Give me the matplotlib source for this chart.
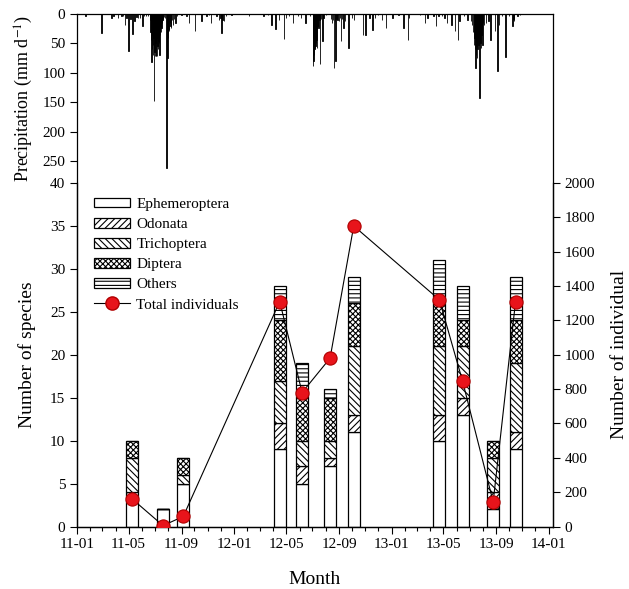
import matplotlib
matplotlib.use("Agg")
import matplotlib.pyplot as plt
import matplotlib.dates as mdates
import pandas as pd
import numpy as np
from matplotlib.lines import Line2D
from matplotlib.patches import Patch

plt.rcParams['font.family'] = ['Liberation Serif', 'DejaVu Serif']
plt.rcParams['mathtext.fontset'] = 'stix'
plt.rcParams['hatch.linewidth'] = 0.8

# ---------------- data ----------------
precip_dates = [
    # 2011
    "2011-01-21", "2011-02-27", "2011-03-22", "2011-03-27", "2011-04-06", "2011-04-14", "2011-04-18",
    "2011-04-22", "2011-04-26", "2011-05-01", "2011-05-05", "2011-05-10", "2011-05-15", "2011-05-19",
    "2011-05-23", "2011-05-27", "2011-06-02", "2011-06-06", "2011-06-10", "2011-06-15", "2011-06-19",
    "2011-06-21", "2011-06-22", "2011-06-23", "2011-06-24", "2011-06-25", "2011-06-26", "2011-06-27",
    "2011-06-28", "2011-06-29", "2011-06-30", "2011-07-01", "2011-07-02", "2011-07-03", "2011-07-04",
    "2011-07-05", "2011-07-06", "2011-07-07", "2011-07-08", "2011-07-09", "2011-07-10", "2011-07-11",
    "2011-07-12", "2011-07-13", "2011-07-14", "2011-07-15", "2011-07-16", "2011-07-17", "2011-07-18",
    "2011-07-19", "2011-07-20", "2011-07-22", "2011-07-25", "2011-07-28", "2011-07-29", "2011-07-30",
    "2011-07-31", "2011-08-01", "2011-08-02", "2011-08-03", "2011-08-05", "2011-08-06", "2011-08-08",
    "2011-08-10", "2011-08-12", "2011-08-15", "2011-08-18", "2011-08-21", "2011-09-01", "2011-09-12",
    "2011-09-18", "2011-10-02", "2011-10-17", "2011-10-29", "2011-11-04", "2011-11-09", "2011-11-21",
    "2011-11-27", "2011-11-30", "2011-12-03", "2011-12-05", "2011-12-08", "2011-12-13", "2011-12-26",
    # 2012
    "2012-02-04", "2012-03-09", "2012-03-20", "2012-03-28", "2012-04-06", "2012-04-14", "2012-04-26",
    "2012-04-30", "2012-05-07", "2012-05-17", "2012-05-29", "2012-06-04", "2012-06-15", "2012-06-25",
    "2012-07-02", "2012-07-03", "2012-07-04", "2012-07-05", "2012-07-06", "2012-07-07", "2012-07-08",
    "2012-07-09", "2012-07-10", "2012-07-11", "2012-07-12", "2012-07-13", "2012-07-15", "2012-07-17",
    "2012-07-19", "2012-07-21", "2012-07-24", "2012-07-27", "2012-08-02", "2012-08-13", "2012-08-16",
    "2012-08-18", "2012-08-20", "2012-08-22", "2012-08-24", "2012-08-26", "2012-08-28", "2012-09-01",
    "2012-09-03", "2012-09-05", "2012-09-08", "2012-09-11", "2012-09-15", "2012-09-23", "2012-10-01",
    "2012-10-05", "2012-10-27", "2012-11-01", "2012-11-11", "2012-11-18", "2012-11-23", "2012-12-01",
    "2012-12-10", "2012-12-19",
    # 2013
    "2013-01-03", "2013-01-17", "2013-01-29", "2013-02-08", "2013-02-11", "2013-03-08", "2013-03-20",
    "2013-03-25", "2013-04-08", "2013-04-14", "2013-04-20", "2013-04-28", "2013-05-04", "2013-05-10",
    "2013-05-20", "2013-05-28", "2013-06-04", "2013-06-08", "2013-06-18", "2013-06-26", "2013-07-05",
    "2013-07-07", "2013-07-09", "2013-07-11", "2013-07-13", "2013-07-14", "2013-07-15", "2013-07-16",
    "2013-07-17", "2013-07-18", "2013-07-19", "2013-07-20", "2013-07-21", "2013-07-22", "2013-07-23",
    "2013-07-24", "2013-07-25", "2013-07-26", "2013-07-27", "2013-07-28", "2013-07-29", "2013-07-30",
    "2013-07-31", "2013-08-02", "2013-08-04", "2013-08-08", "2013-08-14", "2013-08-19", "2013-08-29",
    "2013-09-04", "2013-09-08", "2013-09-14", "2013-09-23", "2013-10-01", "2013-10-09", "2013-10-11",
    "2013-10-13", "2013-10-21", "2013-10-26",
]
precip_mm = [
    # 2011
    4, 32, 7, 4, 7, 4, 4,
    18, 6, 63, 8, 34, 12, 5,
    7, 6, 21, 3, 4, 4, 10,
    30, 45, 81, 60, 35, 70, 52,
    40, 148, 65, 72, 50, 72, 72,
    40, 72, 55, 60, 46, 30, 50,
    69, 35, 20, 30, 24, 15, 12,
    10, 8, 5, 6, 261, 30, 75,
    40, 30, 25, 29, 15, 20, 24,
    10, 18, 8, 15, 4, 2, 4,
    15, 29, 12, 4, 2, 15, 4,
    10, 7, 32, 10, 12, 4, 2,
    # 2012
    4, 4, 2, 18, 25, 11, 42,
    7, 4, 15, 4, 7, 15, 3,
    40, 89, 80, 70, 60, 58, 55,
    50, 45, 58, 30, 20, 24, 10,
    85, 8, 46, 7, 2, 8, 15,
    10, 92, 12, 80, 8, 10, 12,
    6, 46, 8, 24, 12, 58, 7,
    10, 35, 35, 6, 27, 7, 2,
    10, 24,
    # 2013
    7, 2, 24, 44, 7, 2, 15,
    7, 4, 21, 4, 4, 7, 15,
    18, 29, 44, 12, 4, 10, 12,
    18, 30, 52, 40, 60, 92, 70,
    55, 45, 75, 60, 40, 52, 35,
    142, 45, 30, 50, 58, 35, 25,
    52, 15, 18, 15, 12, 44, 29,
    97, 18, 4, 73, 4, 21, 8,
    12, 4, 2,
]

sample_dates = ["2011-05-08", "2011-07-20", "2011-09-05", "2012-04-16", "2012-06-07", "2012-08-11",
                "2012-10-05", "2013-04-22", "2013-06-15", "2013-08-25", "2013-10-16"]
ephemeroptera = [3, 2, 5, 9, 5, 7, 11, 10, 13, 2, 9]
odonata       = [1, 0, 0, 3, 2, 1, 2, 3, 2, 2, 2]
trichoptera   = [4, 0, 1, 5, 3, 2, 8, 8, 6, 4, 8]
diptera       = [2, 0, 2, 7, 5, 5, 5, 5, 3, 2, 5]
others        = [0, 0, 0, 4, 4, 1, 3, 5, 4, 0, 5]
total_individuals = [163, 5, 59, 1310, 780, 980, 1750, 1320, 845, 143, 1310]

group_names = ["Ephemeroptera", "Odonata", "Trichoptera", "Diptera", "Others"]
group_hatches = ["", "/////", "\\\\\\\\\\", "xxxxxx", "----"]

# ---------------- figure ----------------
W, H = 629, 589
fig = plt.figure(figsize=(W / 100, H / 100), dpi=100)
left = 77 / W
width = (553 - 77) / W
b_bot = 1 - 526.5 / H
b_top = 1 - 183 / H
p_top = 1 - 14 / H

ax_p = fig.add_axes([left, b_top, width, p_top - b_top])
ax = fig.add_axes([left, b_bot, width, b_top - b_bot])

xmin = mdates.date2num(pd.Timestamp("2011-01-01"))
xmax = mdates.date2num(pd.Timestamp("2014-01-11"))

# precipitation panel
pd_num = mdates.date2num(pd.to_datetime(precip_dates))
ax_p.bar(pd_num, precip_mm, width=1.0, color="black", edgecolor="black", linewidth=0.6, align="center")
ax_p.set_xlim(xmin, xmax)
ax_p.set_ylim(287, 0)
ax_p.set_yticks([0, 50, 100, 150, 200, 250])
ax_p.set_xticks([])
ax_p.spines["bottom"].set_visible(False)
ax_p.tick_params(axis="y", direction="out", length=5, width=0.8, labelsize=11)
ax_p.set_ylabel("Precipitation (mm d$^{-1}$)", fontsize=13)
ax_p.yaxis.set_label_coords(-0.088, 0.5)
for s in ["left", "top", "right"]:
    ax_p.spines[s].set_linewidth(0.9)

# species stacked bars
sd_num = mdates.date2num(pd.to_datetime(sample_dates))
series = [ephemeroptera, odonata, trichoptera, diptera, others]
bottom = np.zeros(len(sample_dates))
for name, vals, h in zip(group_names, series, group_hatches):
    vals = np.array(vals, dtype=float)
    ax.bar(sd_num, vals, width=28, bottom=bottom, color="white", edgecolor="black",
           linewidth=0.9, hatch=h, label=name, zorder=2)
    bottom += vals

ax.set_xlim(xmin, xmax)
ax.set_ylim(0, 40)
ax.set_yticks(np.arange(0, 41, 5))
ax.spines["top"].set_visible(False)
ax.xaxis.set_major_locator(mdates.MonthLocator(bymonth=[1, 5, 9]))
ax.xaxis.set_minor_locator(mdates.MonthLocator())
ax.xaxis.set_major_formatter(mdates.DateFormatter("%y-%m"))
ax.tick_params(axis="both", which="major", direction="out", length=5, width=0.8, labelsize=11)
ax.tick_params(axis="x", which="minor", direction="out", length=3, width=0.8)
ax.set_ylabel("Number of species", fontsize=14)
ax.yaxis.set_label_coords(-0.086, 0.5)
ax.set_xlabel("Month", fontsize=14)
ax.xaxis.set_label_coords(0.5, -0.13)

ax2 = ax.twinx()
ax2.plot(sd_num, total_individuals, color="black", linewidth=0.8, marker="o", markersize=9.5,
         markerfacecolor="#e8141b", markeredgecolor="#b00000", markeredgewidth=0.8, zorder=3,
         label="Total individuals")
ax2.set_ylim(0, 2000)
ax2.set_yticks(np.arange(0, 2001, 200))
ax2.spines["top"].set_visible(False)
ax2.tick_params(axis="y", direction="out", length=5, width=0.8, labelsize=11)
ax2.set_ylabel("Number of individual", fontsize=14)
ax2.yaxis.set_label_coords(1.122, 0.5)
for a in (ax, ax2):
    for s in ["left", "bottom", "right"]:
        a.spines[s].set_linewidth(0.9)

handles = [Patch(facecolor="white", edgecolor="black", hatch=h, linewidth=0.9)
           for h in group_hatches]
handles.append(Line2D([], [], color="black", linewidth=0.8, marker="o", markersize=9.5,
                      markerfacecolor="#e8141b", markeredgecolor="#b00000"))
ax2.legend(handles, group_names + ["Total individuals"], loc="upper left",
           bbox_to_anchor=(0.035, 0.957), frameon=False, fontsize=11,
           handlelength=2.4, handleheight=0.6, handletextpad=0.4, labelspacing=0.45,
           borderpad=0, borderaxespad=0)

fig.savefig("out.png", dpi=100)
